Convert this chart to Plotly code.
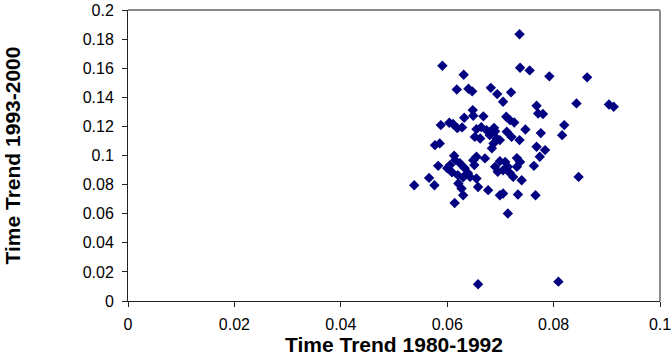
import plotly.graph_objects as go

# Time Trend 1980-1992 (x) vs Time Trend 1993-2000 (y)
trend_1980_1992 = [
    0.0736, 0.0591, 0.0631, 0.0737, 0.0755, 0.0792, 0.0863, 0.0618, 0.0640, 0.0647,
    0.0682, 0.0694, 0.0720, 0.0705, 0.0768, 0.0843, 0.0904, 0.0913, 0.0771, 0.0780,
    0.0648, 0.0649, 0.0632, 0.0668, 0.0711, 0.0718, 0.0726, 0.0747, 0.0776, 0.0820,
    0.0816, 0.0588, 0.0604, 0.0611, 0.0619, 0.0628, 0.0664, 0.0674, 0.0688,
    0.0655, 0.0690, 0.0652, 0.0662, 0.0680, 0.0693, 0.0687, 0.0699, 0.0712, 0.0721,
    0.0736, 0.0768, 0.0784, 0.0774, 0.0763, 0.0655, 0.0671, 0.0684, 0.0699, 0.0709,
    0.0690, 0.0695, 0.0705, 0.0714, 0.0718, 0.0724, 0.0731, 0.0737, 0.0740,
    0.0655, 0.0658, 0.0677, 0.0699, 0.0705, 0.0733, 0.0766, 0.0714, 0.0643, 0.0649,
    0.0577, 0.0586, 0.0583, 0.0613,
    0.0605, 0.0615, 0.0624, 0.0633, 0.0609, 0.0620, 0.0630, 0.0639, 0.0600,
    0.0566, 0.0576, 0.0538, 0.0621, 0.0627, 0.0630, 0.0614,
    0.0651, 0.0731, 0.0847, 0.0658, 0.0809,
]
trend_1993_2000 = [
    0.1833, 0.1617, 0.1555, 0.1603, 0.1585, 0.1544, 0.1537, 0.1454, 0.1459, 0.1441,
    0.1465, 0.1422, 0.1434, 0.1369, 0.1342, 0.1358, 0.1351, 0.1335, 0.1289, 0.1285,
    0.1312, 0.1273, 0.1259, 0.1269, 0.1266, 0.1243, 0.1227, 0.1179, 0.1154, 0.1209,
    0.1140, 0.1209, 0.1225, 0.1216, 0.1188, 0.1193, 0.1195, 0.1174, 0.1190,
    0.1181, 0.1167, 0.1128, 0.1117, 0.1140, 0.1117, 0.1083, 0.1106, 0.1163, 0.1128,
    0.1106, 0.1060, 0.1037, 0.0991, 0.0929, 0.0991, 0.0980, 0.1049, 0.0961, 0.0956,
    0.0922, 0.0888, 0.0899, 0.0922, 0.0879, 0.0853, 0.0922, 0.0956, 0.0830,
    0.0842, 0.0784, 0.0762, 0.0727, 0.0739, 0.0732, 0.0727, 0.0601, 0.0853, 0.0968,
    0.1071, 0.1083, 0.0929, 0.0998,
    0.0933, 0.0968, 0.0947, 0.0913, 0.0885, 0.0865, 0.0851, 0.0879, 0.0913,
    0.0846, 0.0796, 0.0796, 0.0808, 0.0773, 0.0727, 0.0674,
    0.0934, 0.0982, 0.0853, 0.0115, 0.0133,
]

x_tick_vals = [0, 0.02, 0.04, 0.06, 0.08, 0.1]
x_tick_text = ["0", "0.02", "0.04", "0.06", "0.08", "0.1"]
y_tick_vals = [0, 0.02, 0.04, 0.06, 0.08, 0.1, 0.12, 0.14, 0.16, 0.18, 0.2]
y_tick_text = ["0", "0.02", "0.04", "0.06", "0.08", "0.1", "0.12", "0.14", "0.16", "0.18", "0.2"]

fig = go.Figure()
fig.add_trace(go.Scatter(
    x=trend_1980_1992, y=trend_1993_2000, mode="markers",
    marker=dict(symbol="diamond", size=8, color="#000080", line=dict(width=0)),
    cliponaxis=False, showlegend=False,
))

font_family = "Liberation Sans, Arial, sans-serif"
fig.update_layout(
    width=672, height=358,
    margin=dict(l=128, r=12, t=10, b=57),
    paper_bgcolor="white", plot_bgcolor="white",
    font=dict(family=font_family, color="black", size=16),
    xaxis=dict(
        range=[0, 0.1], tickvals=x_tick_vals, ticktext=x_tick_text,
        showgrid=False, zeroline=False, showline=True, linecolor="#222222", linewidth=1,
        ticks="outside", ticklen=5, tickcolor="#222222", tickfont=dict(size=16),
        ticklabelstandoff=4, automargin=False,
        title=dict(text="<b>Time Trend 1980-1992</b>", font=dict(size=21), standoff=3),
    ),
    yaxis=dict(
        range=[0, 0.2], tickvals=y_tick_vals, ticktext=y_tick_text,
        showgrid=False, zeroline=False, showline=True, linecolor="#222222", linewidth=1,
        ticks="outside", ticklen=5, tickcolor="#222222", tickfont=dict(size=16),
        ticklabelstandoff=5, automargin=False,
        title=dict(text="<b>Time Trend 1993-2000</b>", font=dict(size=21), standoff=56),
    ),
    shapes=[
        dict(type="line", xref="paper", yref="paper", x0=0, x1=1, y0=1, y1=1,
             line=dict(color="#8c8c8c", width=2), layer="below"),
        dict(type="line", xref="paper", yref="paper", x0=1, x1=1, y0=0, y1=1,
             line=dict(color="#8c8c8c", width=2), layer="below"),
    ],
)

fig.write_html("out.html")
